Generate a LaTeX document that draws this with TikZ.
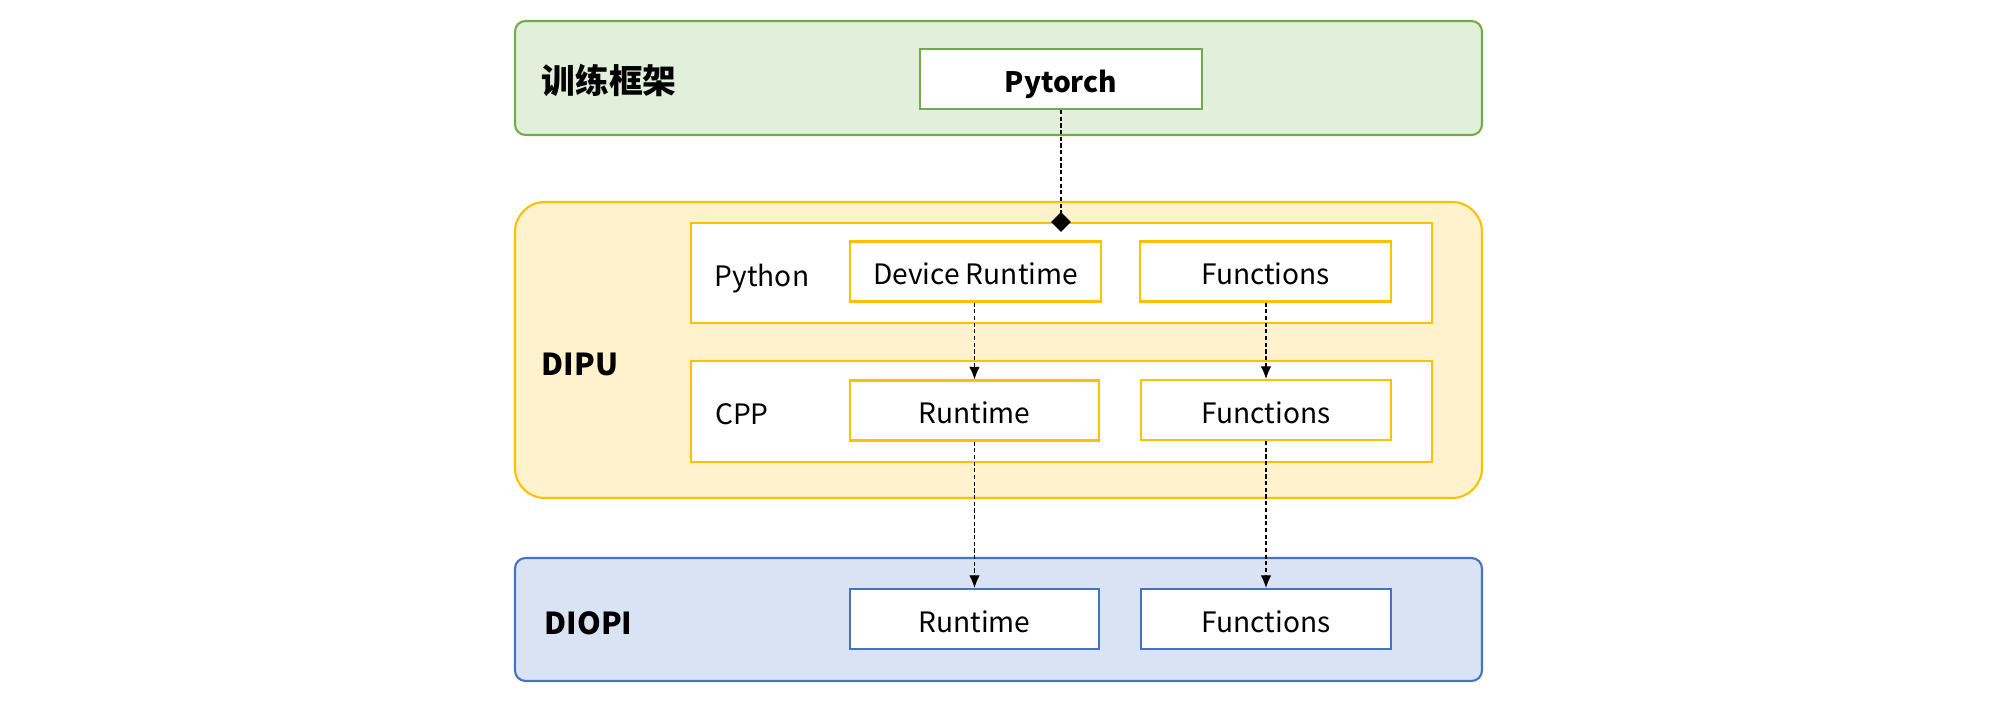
\documentclass[tikz,border=0pt]{standalone}
\usepackage{fontspec}
\setmainfont{Noto Sans CJK SC}
\usetikzlibrary{arrows.meta}
\definecolor{trainLine}{HTML}{70AD47}
\definecolor{trainFill}{HTML}{E2EFDA}
\definecolor{dipuLine}{HTML}{FFC000}
\definecolor{dipuFill}{HTML}{FFF2CC}
\definecolor{diopiLine}{HTML}{4472C4}
\definecolor{diopiFill}{HTML}{DAE3F3}

\begin{document}
\begin{tikzpicture}[x=1cm,y=1cm,
  layer/.style={draw,line width=0.6pt,rounded corners=3pt,minimum width=9.67cm,inner sep=0pt},
  panel/.style={draw=dipuLine,fill=white,line width=0.6pt,minimum width=7.41cm,minimum height=1cm,inner sep=0pt},
  block/.style={draw,fill=white,line width=0.6pt,minimum width=2.5cm,minimum height=0.6cm,inner sep=0pt,
    text height=0.74em,text depth=0pt,font=\fontsize{8}{10}\selectfont},
  tag/.style={font=\fontsize{8.6}{10}\selectfont\bfseries,anchor=west,inner sep=0pt,text height=0.74em,text depth=0pt},
  plain/.style={font=\fontsize{8}{10}\selectfont,inner sep=0pt,text height=0.74em,text depth=0pt},
  dashline/.style={dash pattern=on 1.2pt off 0.7pt,line width=0.3pt},
  link/.style={dashline,-{Latex[length=3.6pt,width=3pt]}}
]
\useasboundingbox (0,0) rectangle (19.97,-7.22);
% training framework
\node[layer,draw=trainLine,fill=trainFill,minimum height=1.14cm] (train) at (9.985,-0.78) {};
\node[tag,font=\fontsize{9.6}{12}\selectfont\bfseries,text height=0.8em] (trainTag) at (5.41,-0.79) {训练框架};
\node[block,draw=trainLine,minimum width=2.82cm] (pytorch) at (10.61,-0.79) {\bfseries Pytorch};
% DIPU
\node[layer,draw=dipuLine,fill=dipuFill,minimum height=2.96cm,rounded corners=8.5pt] (dipu) at (9.985,-3.50) {};
\node[tag] (dipuTag) at (5.41,-3.625) {DIPU};
\node[panel] (python) at (10.615,-2.73) {};
\node[plain] (pythonTag) at (7.62,-2.73) {Python};
\node[block,draw=dipuLine,minimum width=2.51cm] (devRt) at (9.755,-2.715) {Device Runtime};
\node[block,draw=dipuLine,minimum width=2.51cm] (pyFn) at (12.655,-2.715) {Functions};
\node[panel,minimum height=1.01cm] (cpp) at (10.615,-4.115) {};
\node[plain] (cppTag) at (7.42,-4.11) {CPP};
\node[block,draw=dipuLine,minimum width=2.49cm] (cppRt) at (9.745,-4.105) {Runtime};
\node[block,draw=dipuLine] (cppFn) at (12.66,-4.10) {Functions};
% DIOPI
\node[layer,draw=diopiLine,fill=diopiFill,minimum height=1.23cm] (diopi) at (9.985,-6.195) {};
\node[tag] (diopiTag) at (5.44,-6.21) {DIOPI};
\node[block,draw=diopiLine,minimum width=2.49cm] (diopiRt) at (9.745,-6.19) {Runtime};
\node[block,draw=diopiLine] (diopiFn) at (12.66,-6.19) {Functions};
% links
\draw[dashline,-{Diamond[length=5.6pt,width=5.6pt]},shorten >=-2.8pt] (pytorch.south) -- (pytorch.south |- python.north);
\draw[link] (devRt.south -| cppRt.north) -- (cppRt.north);
\draw[link] (pyFn.south -| cppFn.north) -- (cppFn.north);
\draw[link] (cppRt.south) -- (diopiRt.north);
\draw[link] (cppFn.south) -- (diopiFn.north);
\end{tikzpicture}
\end{document}
